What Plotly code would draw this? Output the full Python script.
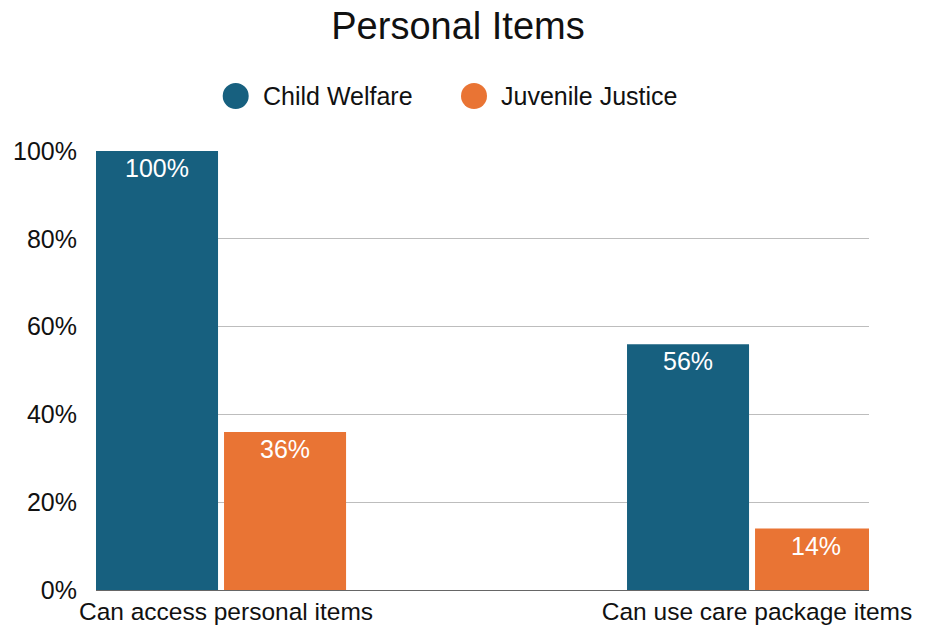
import plotly.graph_objects as go

# Data
categories = ["Can access personal items", "Can use care package items"]
series_names = ["Child Welfare", "Juvenile Justice"]
child_welfare = [1.00, 0.56]
juvenile_justice = [0.36, 0.14]
y_tick_vals = [0, 0.2, 0.4, 0.6, 0.8, 1.0]
y_tick_text = ["0%", "20%", "40%", "60%", "80%", "100%"]

colors = ["#17607F", "#E97434"]
FONT = "Liberation Sans, Arial, sans-serif"
TXT = 25

W, H = 927, 627
M_L, M_R, M_T, M_B = 96, 58, 151, 37
plot_w = W - M_L - M_R
plot_h = H - M_T - M_B


def px_to_paper(px, py):
    return (px - M_L) / plot_w, (H - M_B - py) / plot_h


fig = go.Figure()

bar_width = 0.2298
offsets = [-0.2354, 0.0057]
for name, vals, col, off in zip(series_names, [child_welfare, juvenile_justice], colors, offsets):
    fig.add_trace(go.Bar(
        x=categories, y=vals, name=name,
        marker=dict(color=col, line=dict(width=0)),
        width=bar_width, offset=off,
        texttemplate="%{y:.0%}", textposition="inside",
        insidetextanchor="end", textangle=0, constraintext="none",
        textfont=dict(color="white", size=TXT, family=FONT),
        showlegend=False, hoverinfo="skip",
    ))

# Legend: round swatches and labels above the plot
shapes, annotations = [], []
legend_items = [(235.7, 261), (474, 499)]
for (cx, tx), name, col in zip(legend_items, series_names, colors):
    sx, sy = px_to_paper(cx, 96)
    shapes.append(dict(type="circle", xref="paper", yref="paper",
                       xsizemode="pixel", ysizemode="pixel",
                       xanchor=sx, yanchor=sy, x0=-13, x1=13, y0=-13, y1=13,
                       fillcolor=col, line=dict(width=0)))
    ax, ay = px_to_paper(tx, 96)
    annotations.append(dict(text=name, xref="paper", yref="paper", x=ax, y=ay,
                            xanchor="left", yanchor="middle", showarrow=False,
                            font=dict(size=TXT, color="#111", family=FONT)))

fig.update_layout(
    width=W, height=H,
    margin=dict(l=M_L, r=M_R, t=M_T, b=M_B),
    paper_bgcolor="white", plot_bgcolor="white",
    title=dict(text="Personal Items", x=458 / W, xref="container", xanchor="center",
               y=1 - 26 / H, yref="container", yanchor="middle",
               font=dict(size=38, color="#111", family=FONT)),
    font=dict(family=FONT, color="#111"),
    shapes=shapes, annotations=annotations,
    barmode="group",
)
fig.update_xaxes(
    type="category", range=[-0.2354, 1.2203], automargin=False,
    showgrid=False, showline=True, linecolor="#666", linewidth=1,
    ticks="", tickfont=dict(size=24.5, color="#111", family=FONT),
    ticklabelstandoff=0, ticklabelshift=5,
)
fig.update_yaxes(
    range=[0, 1], automargin=False,
    tickvals=y_tick_vals, ticktext=y_tick_text,
    showgrid=True, gridcolor="#BDBDBD", gridwidth=1, zeroline=False,
    showline=False, ticks="", tickfont=dict(size=TXT, color="#111", family=FONT),
    ticklabelstandoff=18,
)

fig.write_html("out.html")
